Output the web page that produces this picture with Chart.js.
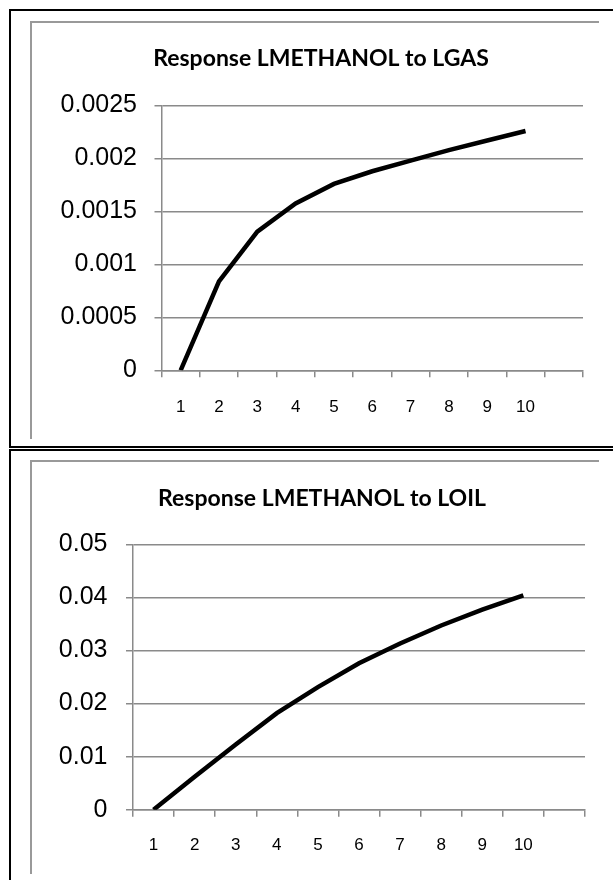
<!DOCTYPE html>
<html>
<head>
<meta charset="utf-8">
<script src="https://cdn.jsdelivr.net/npm/chart.js@4.4.0/dist/chart.umd.min.js"></script>
<style>
  body{margin:0;background:#fff;width:613px;height:880px;overflow:hidden;position:relative}
  .box{position:absolute;left:9px;width:640px;border:2px solid #000}
  .frame{position:absolute;left:30px;border-top:2px solid #999;border-left:2px solid #999}
  canvas{position:absolute;left:0}
</style>
</head>
<body>
<div class="box" style="top:9px;height:435px"></div>
<div class="box" style="top:449px;height:460px"></div>
<div class="frame" style="top:21px;width:567px;height:416px"></div>
<div class="frame" style="top:460px;width:567px;height:412px"></div>
<canvas id="cGas" width="613" height="440" style="top:0"></canvas>
<canvas id="cOil" width="613" height="430" style="top:450px"></canvas>
<script>
// periodos (o ultimo fica vazio, como no excel)
const periodos = ['1','2','3','4','5','6','7','8','9','10','']
// respostas
const respGas = [0, 0.00084, 0.00131, 0.001575, 0.00176, 0.00188, 0.00198, 0.00208, 0.00217, 0.00226]
const respOil = [0, 0.0062, 0.0123, 0.0182, 0.0231, 0.0276, 0.0313, 0.0347, 0.0377, 0.0404]
const ticksGas = {max: 0.0025, step: 0.0005}
const ticksOil = {max: 0.05, step: 0.01}

const cinza = '#8a8a8a'
Chart.defaults.color = '#000'
Chart.defaults.font.family = '"Liberation Sans", Arial, sans-serif'

const fmt = v => String(+v.toFixed(4))

/**
 * monta um grafico de linha no estilo do excel
 */
const montaGrafico = (id, titulo, valores, escala, cfg) => {
    new Chart(document.getElementById(id), {
        type: 'line',
        data: {
            labels: periodos,
            datasets: [{
                data: valores,
                borderColor: '#000',
                borderWidth: 4.5,
                pointRadius: 0,
                tension: 0,
                fill: false
            }]
        },
        options: {
            responsive: false,
            animation: false,
            layout: {padding: {left: 59, right: cfg.right, top: 0, bottom: cfg.bottom}},
            plugins: {
                legend: {display: false},
                tooltip: {enabled: false},
                title: {
                    display: true,
                    text: titulo,
                    color: '#000',
                    font: {family: 'Lato, "Open Sans", sans-serif', size: 23, weight: 'bold', lineHeight: 1.2},
                    padding: {top: cfg.titTop, bottom: cfg.titBottom}
                }
            },
            scales: {
                x: {
                    offset: true,
                    grid: {offset: true, drawOnChartArea: false, tickLength: 7, color: cinza, lineWidth: 1.5},
                    border: {color: cinza, width: 1.5},
                    ticks: {autoSkip: false, maxRotation: 0, padding: cfg.xPad, font: {size: 17}, color: '#000'},
                    afterFit: s => { s.height = 60 }
                },
                y: {
                    min: 0,
                    max: escala.max,
                    grid: {tickLength: 7, color: cinza, lineWidth: 1.5},
                    border: {color: cinza, width: 1.5},
                    ticks: {stepSize: escala.step, padding: cfg.yPad, font: {size: 25}, color: '#000', callback: fmt},
                    afterFit: s => { s.width = cfg.yWidth }
                }
            }
        }
    })
}

montaGrafico('cGas', 'Response LMETHANOL to LGAS', respGas, ticksGas,
    {right: 30, bottom: 9.7, titTop: 45.2, titBottom: 32.8, xPad: 19.5, yPad: 17.5, yWidth: 102.5})
montaGrafico('cOil', 'Response LMETHANOL to LOIL', respOil, ticksOil,
    {right: 28, bottom: 10.3, titTop: 35.2, titBottom: 31.5, xPad: 18, yPad: 18.5, yWidth: 74})
</script>
</body>
</html>
